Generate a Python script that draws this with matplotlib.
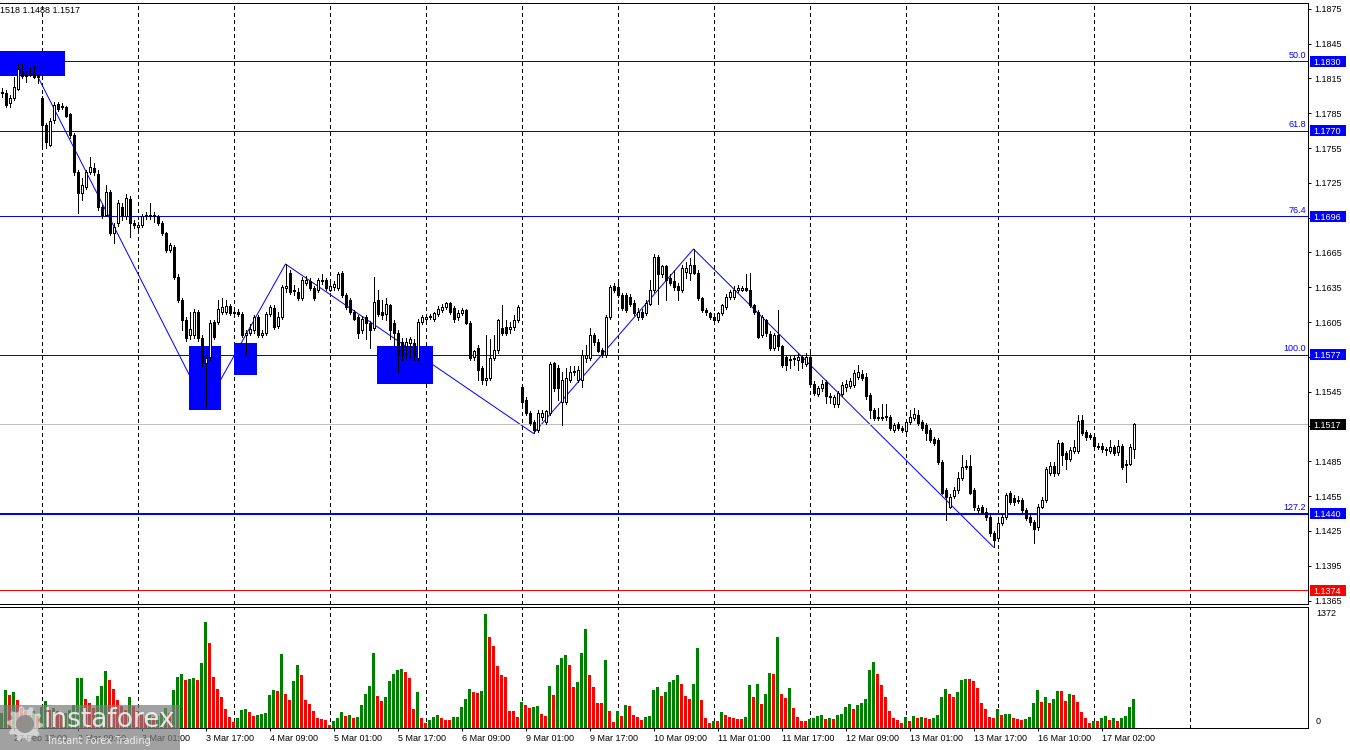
import numpy as np
import matplotlib
matplotlib.use("Agg")
import matplotlib.pyplot as plt
from matplotlib.patches import Rectangle, Polygon
import matplotlib.transforms as mtransforms

plt.rcParams['font.family'] = ['Liberation Sans', 'DejaVu Sans']
plt.rcParams['font.size'] = 6.5

# ---------------- data (EURUSD H1) ----------------
opens = [
 1.1802, 1.1802, 1.1794, 1.1798, 1.1806, 1.1821, 1.1817, 1.1818, 1.1820, 1.1816,
 1.1798, 1.1775, 1.1758, 1.1779, 1.1793, 1.1790, 1.1790, 1.1784, 1.1766, 1.1734,
 1.1716, 1.1721, 1.1734, 1.1738, 1.1733, 1.1704, 1.1697, 1.1717, 1.1682, 1.1690,
 1.1704, 1.1696, 1.1711, 1.1690, 1.1687, 1.1689, 1.1696, 1.1696, 1.1697, 1.1696,
 1.1690, 1.1682, 1.1667, 1.1670, 1.1644, 1.1624, 1.1607, 1.1594, 1.1594, 1.1614,
 1.1591, 1.1570, 1.1575, 1.1605, 1.1605, 1.1614, 1.1614, 1.1619, 1.1614, 1.1614,
 1.1612, 1.1594, 1.1596, 1.1598, 1.1609, 1.1594, 1.1596, 1.1612, 1.1617, 1.1602,
 1.1609, 1.1634, 1.1647, 1.1633, 1.1631, 1.1626, 1.1639, 1.1640, 1.1634, 1.1633,
 1.1640, 1.1641, 1.1633, 1.1635, 1.1634, 1.1647, 1.1628, 1.1624, 1.1614, 1.1609,
 1.1598, 1.1609, 1.1604, 1.1600, 1.1624, 1.1614, 1.1612, 1.1620, 1.1604, 1.1596,
 1.1588, 1.1584, 1.1587, 1.1587, 1.1574, 1.1605, 1.1608, 1.1609, 1.1608, 1.1612,
 1.1615, 1.1618, 1.1621, 1.1617, 1.1609, 1.1613, 1.1615, 1.1604, 1.1575, 1.1583,
 1.1565, 1.1555, 1.1557, 1.1574, 1.1581, 1.1600, 1.1601, 1.1599, 1.1601, 1.1607,
 1.1549, 1.1538, 1.1527, 1.1519, 1.1512, 1.1523, 1.1519, 1.1527, 1.1570, 1.1565,
 1.1536, 1.1536, 1.1555, 1.1562, 1.1555, 1.1555, 1.1574, 1.1574, 1.1594, 1.1588,
 1.1581, 1.1577, 1.1609, 1.1636, 1.1635, 1.1628, 1.1628, 1.1627, 1.1621, 1.1609,
 1.1614, 1.1613, 1.1621, 1.1633, 1.1661, 1.1646, 1.1653, 1.1643, 1.1640, 1.1636,
 1.1633, 1.1648, 1.1647, 1.1654, 1.1647, 1.1626, 1.1615, 1.1613, 1.1609, 1.1607,
 1.1613, 1.1618, 1.1627, 1.1627, 1.1633, 1.1633, 1.1634, 1.1633, 1.1620, 1.1614,
 1.1594, 1.1607, 1.1595, 1.1583, 1.1594, 1.1584, 1.1575, 1.1572, 1.1573, 1.1572,
 1.1575, 1.1569, 1.1575, 1.1552, 1.1543, 1.1548, 1.1553, 1.1541, 1.1534, 1.1534,
 1.1543, 1.1549, 1.1550, 1.1551, 1.1558, 1.1560, 1.1558, 1.1542, 1.1529, 1.1523,
 1.1522, 1.1523, 1.1523, 1.1512, 1.1517, 1.1514, 1.1511, 1.1519, 1.1522, 1.1525,
 1.1519, 1.1516, 1.1512, 1.1504, 1.1503, 1.1484, 1.1460, 1.1446, 1.1455, 1.1460,
 1.1471, 1.1481, 1.1481, 1.1460, 1.1443, 1.1446, 1.1441, 1.1437, 1.1423, 1.1419,
 1.1432, 1.1437, 1.1458, 1.1453, 1.1452, 1.1452, 1.1443, 1.1437, 1.1433, 1.1428,
 1.1446, 1.1452, 1.1475, 1.1481, 1.1475, 1.1501, 1.1492, 1.1487, 1.1494, 1.1494,
 1.1521, 1.1510, 1.1508, 1.1506, 1.1498, 1.1498, 1.1496, 1.1494, 1.1497, 1.1493,
 1.1498, 1.1482, 1.1483, 1.1496]
highs = [
 1.1807, 1.1805, 1.1801, 1.1816, 1.1827, 1.1827, 1.1821, 1.1824, 1.1826, 1.1819,
 1.1800, 1.1777, 1.1781, 1.1795, 1.1795, 1.1794, 1.1791, 1.1785, 1.1768, 1.1736,
 1.1729, 1.1736, 1.1747, 1.1742, 1.1736, 1.1706, 1.1723, 1.1719, 1.1690, 1.1710,
 1.1708, 1.1715, 1.1714, 1.1693, 1.1691, 1.1698, 1.1700, 1.1708, 1.1700, 1.1697,
 1.1692, 1.1683, 1.1673, 1.1671, 1.1646, 1.1626, 1.1609, 1.1614, 1.1616, 1.1615,
 1.1594, 1.1577, 1.1607, 1.1607, 1.1624, 1.1626, 1.1624, 1.1621, 1.1617, 1.1616,
 1.1614, 1.1598, 1.1603, 1.1611, 1.1611, 1.1598, 1.1614, 1.1620, 1.1620, 1.1614,
 1.1637, 1.1655, 1.1650, 1.1637, 1.1634, 1.1644, 1.1645, 1.1643, 1.1636, 1.1643,
 1.1646, 1.1643, 1.1639, 1.1640, 1.1648, 1.1649, 1.1630, 1.1626, 1.1615, 1.1611,
 1.1610, 1.1611, 1.1606, 1.1644, 1.1633, 1.1624, 1.1626, 1.1621, 1.1607, 1.1598,
 1.1591, 1.1591, 1.1592, 1.1590, 1.1608, 1.1611, 1.1611, 1.1612, 1.1614, 1.1619,
 1.1621, 1.1622, 1.1622, 1.1619, 1.1615, 1.1617, 1.1616, 1.1606, 1.1581, 1.1585,
 1.1567, 1.1594, 1.1590, 1.1594, 1.1608, 1.1620, 1.1607, 1.1605, 1.1611, 1.1620,
 1.1551, 1.1540, 1.1528, 1.1521, 1.1529, 1.1529, 1.1529, 1.1571, 1.1571, 1.1568,
 1.1562, 1.1565, 1.1567, 1.1567, 1.1567, 1.1581, 1.1585, 1.1600, 1.1596, 1.1590,
 1.1583, 1.1611, 1.1637, 1.1639, 1.1640, 1.1630, 1.1630, 1.1629, 1.1624, 1.1617,
 1.1616, 1.1624, 1.1641, 1.1664, 1.1663, 1.1654, 1.1654, 1.1646, 1.1650, 1.1639,
 1.1654, 1.1657, 1.1660, 1.1668, 1.1650, 1.1627, 1.1617, 1.1614, 1.1613, 1.1614,
 1.1621, 1.1629, 1.1633, 1.1636, 1.1637, 1.1636, 1.1646, 1.1647, 1.1621, 1.1615,
 1.1611, 1.1608, 1.1597, 1.1596, 1.1615, 1.1585, 1.1577, 1.1576, 1.1577, 1.1578,
 1.1577, 1.1578, 1.1578, 1.1554, 1.1550, 1.1555, 1.1555, 1.1544, 1.1542, 1.1546,
 1.1553, 1.1555, 1.1557, 1.1564, 1.1568, 1.1564, 1.1561, 1.1544, 1.1531, 1.1531,
 1.1534, 1.1534, 1.1525, 1.1518, 1.1519, 1.1515, 1.1521, 1.1529, 1.1531, 1.1529,
 1.1521, 1.1518, 1.1514, 1.1506, 1.1505, 1.1486, 1.1462, 1.1457, 1.1463, 1.1476,
 1.1490, 1.1486, 1.1490, 1.1462, 1.1447, 1.1447, 1.1445, 1.1439, 1.1425, 1.1434,
 1.1440, 1.1458, 1.1459, 1.1456, 1.1455, 1.1453, 1.1445, 1.1439, 1.1434, 1.1448,
 1.1454, 1.1480, 1.1484, 1.1484, 1.1503, 1.1502, 1.1494, 1.1497, 1.1503, 1.1525,
 1.1525, 1.1512, 1.1509, 1.1508, 1.1501, 1.1501, 1.1497, 1.1503, 1.1499, 1.1503,
 1.1500, 1.1486, 1.1500, 1.1518]
lows = [
 1.1799, 1.1790, 1.1790, 1.1796, 1.1805, 1.1815, 1.1812, 1.1817, 1.1815, 1.1811,
 1.1755, 1.1755, 1.1757, 1.1777, 1.1787, 1.1789, 1.1782, 1.1764, 1.1732, 1.1699,
 1.1710, 1.1720, 1.1733, 1.1732, 1.1702, 1.1695, 1.1696, 1.1680, 1.1673, 1.1688,
 1.1693, 1.1694, 1.1678, 1.1686, 1.1685, 1.1687, 1.1694, 1.1694, 1.1691, 1.1689,
 1.1680, 1.1665, 1.1665, 1.1642, 1.1622, 1.1598, 1.1589, 1.1590, 1.1591, 1.1589,
 1.1567, 1.1532, 1.1572, 1.1590, 1.1603, 1.1612, 1.1612, 1.1611, 1.1611, 1.1610,
 1.1592, 1.1577, 1.1594, 1.1596, 1.1592, 1.1592, 1.1594, 1.1610, 1.1599, 1.1600,
 1.1608, 1.1631, 1.1629, 1.1628, 1.1624, 1.1624, 1.1637, 1.1633, 1.1624, 1.1631,
 1.1638, 1.1633, 1.1632, 1.1633, 1.1633, 1.1627, 1.1616, 1.1612, 1.1607, 1.1591,
 1.1596, 1.1590, 1.1583, 1.1598, 1.1610, 1.1608, 1.1607, 1.1590, 1.1585, 1.1561,
 1.1572, 1.1574, 1.1575, 1.1572, 1.1572, 1.1603, 1.1607, 1.1608, 1.1606, 1.1610,
 1.1614, 1.1616, 1.1612, 1.1605, 1.1607, 1.1611, 1.1603, 1.1572, 1.1572, 1.1555,
 1.1552, 1.1551, 1.1555, 1.1572, 1.1578, 1.1594, 1.1594, 1.1596, 1.1598, 1.1605,
 1.1534, 1.1525, 1.1516, 1.1509, 1.1510, 1.1521, 1.1517, 1.1525, 1.1546, 1.1538,
 1.1516, 1.1534, 1.1553, 1.1559, 1.1553, 1.1549, 1.1571, 1.1572, 1.1585, 1.1579,
 1.1575, 1.1575, 1.1608, 1.1631, 1.1627, 1.1615, 1.1614, 1.1619, 1.1611, 1.1607,
 1.1608, 1.1611, 1.1620, 1.1631, 1.1621, 1.1644, 1.1624, 1.1637, 1.1633, 1.1624,
 1.1631, 1.1643, 1.1641, 1.1646, 1.1624, 1.1614, 1.1611, 1.1608, 1.1605, 1.1605,
 1.1611, 1.1616, 1.1625, 1.1625, 1.1631, 1.1632, 1.1632, 1.1618, 1.1612, 1.1591,
 1.1592, 1.1593, 1.1581, 1.1581, 1.1581, 1.1566, 1.1564, 1.1565, 1.1568, 1.1564,
 1.1565, 1.1567, 1.1551, 1.1542, 1.1541, 1.1546, 1.1535, 1.1535, 1.1532, 1.1532,
 1.1541, 1.1546, 1.1548, 1.1549, 1.1556, 1.1555, 1.1539, 1.1522, 1.1521, 1.1521,
 1.1521, 1.1521, 1.1512, 1.1510, 1.1512, 1.1510, 1.1509, 1.1517, 1.1521, 1.1516,
 1.1512, 1.1503, 1.1502, 1.1499, 1.1483, 1.1457, 1.1434, 1.1445, 1.1453, 1.1458,
 1.1469, 1.1478, 1.1457, 1.1443, 1.1441, 1.1440, 1.1434, 1.1421, 1.1411, 1.1417,
 1.1430, 1.1435, 1.1448, 1.1447, 1.1449, 1.1441, 1.1434, 1.1430, 1.1415, 1.1426,
 1.1445, 1.1450, 1.1473, 1.1472, 1.1473, 1.1482, 1.1478, 1.1485, 1.1492, 1.1492,
 1.1508, 1.1503, 1.1504, 1.1496, 1.1496, 1.1493, 1.1490, 1.1492, 1.1490, 1.1490,
 1.1478, 1.1467, 1.1482, 1.1488]
closes = [
 1.1803, 1.1792, 1.1798, 1.1808, 1.1823, 1.1817, 1.1818, 1.1819, 1.1816, 1.1817,
 1.1775, 1.1760, 1.1778, 1.1792, 1.1789, 1.1791, 1.1783, 1.1766, 1.1734, 1.1716,
 1.1723, 1.1734, 1.1739, 1.1734, 1.1704, 1.1697, 1.1717, 1.1682, 1.1687, 1.1708,
 1.1696, 1.1712, 1.1690, 1.1689, 1.1689, 1.1696, 1.1697, 1.1697, 1.1696, 1.1690,
 1.1682, 1.1667, 1.1671, 1.1644, 1.1624, 1.1607, 1.1591, 1.1599, 1.1614, 1.1591,
 1.1570, 1.1574, 1.1604, 1.1592, 1.1616, 1.1618, 1.1619, 1.1613, 1.1613, 1.1612,
 1.1594, 1.1596, 1.1599, 1.1609, 1.1594, 1.1596, 1.1612, 1.1618, 1.1601, 1.1609,
 1.1635, 1.1636, 1.1631, 1.1632, 1.1626, 1.1641, 1.1641, 1.1634, 1.1626, 1.1641,
 1.1641, 1.1634, 1.1636, 1.1638, 1.1646, 1.1628, 1.1618, 1.1614, 1.1608, 1.1596,
 1.1608, 1.1604, 1.1598, 1.1622, 1.1612, 1.1611, 1.1621, 1.1598, 1.1596, 1.1577,
 1.1577, 1.1588, 1.1590, 1.1577, 1.1605, 1.1609, 1.1609, 1.1610, 1.1613, 1.1616,
 1.1618, 1.1621, 1.1614, 1.1608, 1.1613, 1.1615, 1.1604, 1.1574, 1.1580, 1.1564,
 1.1555, 1.1557, 1.1574, 1.1581, 1.1607, 1.1596, 1.1596, 1.1601, 1.1607, 1.1618,
 1.1536, 1.1527, 1.1518, 1.1512, 1.1527, 1.1527, 1.1528, 1.1569, 1.1548, 1.1548,
 1.1555, 1.1557, 1.1562, 1.1563, 1.1564, 1.1577, 1.1577, 1.1594, 1.1588, 1.1580,
 1.1577, 1.1609, 1.1635, 1.1633, 1.1628, 1.1617, 1.1615, 1.1621, 1.1613, 1.1614,
 1.1609, 1.1621, 1.1633, 1.1661, 1.1646, 1.1653, 1.1641, 1.1639, 1.1635, 1.1633,
 1.1652, 1.1652, 1.1654, 1.1647, 1.1626, 1.1615, 1.1614, 1.1609, 1.1607, 1.1613,
 1.1620, 1.1627, 1.1631, 1.1633, 1.1634, 1.1634, 1.1633, 1.1620, 1.1614, 1.1592,
 1.1609, 1.1596, 1.1583, 1.1594, 1.1584, 1.1568, 1.1568, 1.1573, 1.1574, 1.1575,
 1.1571, 1.1575, 1.1552, 1.1544, 1.1548, 1.1552, 1.1541, 1.1540, 1.1540, 1.1544,
 1.1551, 1.1552, 1.1554, 1.1561, 1.1562, 1.1557, 1.1541, 1.1529, 1.1522, 1.1522,
 1.1523, 1.1524, 1.1514, 1.1516, 1.1514, 1.1512, 1.1519, 1.1523, 1.1526, 1.1518,
 1.1514, 1.1509, 1.1503, 1.1501, 1.1484, 1.1458, 1.1454, 1.1454, 1.1460, 1.1471,
 1.1480, 1.1480, 1.1458, 1.1446, 1.1445, 1.1441, 1.1437, 1.1423, 1.1417, 1.1432,
 1.1437, 1.1456, 1.1450, 1.1450, 1.1451, 1.1443, 1.1436, 1.1433, 1.1427, 1.1446,
 1.1452, 1.1478, 1.1481, 1.1475, 1.1501, 1.1490, 1.1487, 1.1495, 1.1497, 1.1520,
 1.1509, 1.1506, 1.1506, 1.1498, 1.1497, 1.1496, 1.1495, 1.1497, 1.1492, 1.1498,
 1.1480, 1.1483, 1.1497, 1.1517]
volumes = [
 180, 460, 400, 436, 332, 240, 200, 160, 200, 150,
 250, 328, 220, 240, 200, 160, 180, 220, 280, 596,
 604, 352, 300, 240, 388, 508, 688, 580, 472, 340,
 268, 220, 376, 260, 200, 160, 120, 160, 130, 150,
 180, 240, 180, 452, 616, 652, 580, 592, 596, 580,
 788, 1276, 1028, 616, 472, 376, 232, 128, 76, 124,
 220, 232, 196, 148, 152, 172, 176, 400, 460, 448,
 892, 412, 340, 568, 760, 640, 340, 288, 208, 124,
 112, 100, 40, 88, 124, 196, 148, 152, 124, 136,
 280, 412, 508, 904, 388, 328, 376, 568, 652, 700,
 712, 676, 604, 232, 436, 124, 64, 100, 136, 160,
 124, 100, 96, 132, 136, 252, 352, 472, 436, 424,
 448, 1372, 1096, 988, 748, 640, 616, 208, 204, 136,
 316, 280, 244, 256, 268, 172, 148, 508, 400, 760,
 840, 880, 760, 496, 556, 904, 1192, 640, 496, 304,
 300, 820, 208, 76, 208, 148, 280, 268, 160, 136,
 100, 136, 148, 460, 496, 388, 436, 556, 580, 640,
 532, 388, 352, 532, 964, 340, 124, 64, 88, 84,
 196, 160, 136, 124, 112, 108, 136, 520, 376, 532,
 292, 412, 664, 652, 1096, 412, 364, 484, 244, 136,
 88, 84, 112, 124, 148, 152, 112, 124, 112, 160,
 164, 256, 292, 232, 280, 296, 352, 700, 796, 652,
 520, 376, 208, 124, 100, 64, 136, 88, 148, 124,
 128, 124, 112, 116, 160, 376, 472, 412, 376, 436,
 580, 592, 588, 568, 484, 304, 232, 136, 124, 232,
 160, 164, 172, 124, 112, 100, 112, 136, 304, 460,
 316, 376, 304, 352, 448, 444, 328, 412, 400, 316,
 196, 124, 64, 88, 84, 124, 148, 100, 124, 88,
 124, 148, 256, 352]
vol_dir = ("GGRGRRRRGR" "GGRGRRGGGG" "GRRRGGGRRR" "RRGRRRRGRG" "GGRGGGRGGR"
           "GGRRRRRRRG" "GGRRGGGGGR" "GRRGGRRRRR" "RRRGGGRGRG" "GGGGRRGGGG"
           "GRRRGRRGGG" "RRRGGGGGRR" "GGRRRRRRRR" "GRRGGRRGRG" "GGRRGGGRRR"
           "RGRRGRGRRR" "RGGGGRGGGG" "RRRGGRRRGR" "GRRRRRGGRG" "RGGRGRRGRR"
           "RRGGGGRGRG" "GGGRGGGGGR" "RRRRRRGRGR" "GRRGGGGRRG" "GGRRRRRRRG"
           "RGGRRRGGGG" "RGRGGRRGRR" "RRRGRGGRGR" "GGGG")

day_starts = [10, 34, 58, 82, 106, 130, 154, 178, 202, 226, 249, 273, 297]
time_label_idx = [3, 19, 35, 51, 67, 83, 99, 115, 131, 147, 163, 179, 195, 211,
                  227, 243, 259, 275]
time_labels = ["27 Feb 17:00", "2 Mar 09:00", "3 Mar 01:00", "3 Mar 17:00",
               "4 Mar 09:00", "5 Mar 01:00", "5 Mar 17:00", "6 Mar 09:00",
               "9 Mar 01:00", "9 Mar 17:00", "10 Mar 09:00", "11 Mar 01:00",
               "11 Mar 17:00", "12 Mar 09:00", "13 Mar 01:00", "13 Mar 17:00",
               "16 Mar 10:00", "17 Mar 02:00"]
price_ticks = [1.1365, 1.1395, 1.1425, 1.1455, 1.1485, 1.1515, 1.1545, 1.1575,
               1.1605, 1.1635, 1.1665, 1.1695, 1.1725, 1.1755, 1.1785, 1.1815,
               1.1845, 1.1875]
fib_levels = [1.1830, 1.1770, 1.1696, 1.1577, 1.1440]
fib_names = ["50.0", "61.8", "76.4", "100.0", "127.2"]
support_level = 1.1374
last_price = 1.1517
zigzag_idx = [9, 51, 71, 133, 173, 248]
zigzag_price = [1.1817, 1.1532, 1.1655, 1.1509, 1.1668, 1.1411]
# zones: (first bar, last bar, upper price, lower price)
zone_start = [-1.0, 46.9, 58.0, 93.9]
zone_end = [15.9, 54.9, 63.85, 107.9]
zone_top = [1.1839, 1.1584, 1.1587, 1.1584]
zone_bottom = [1.1817, 1.1529, 1.1559, 1.1552]
vol_max_label = 1372
header_text = "1518 1.1488 1.1517"

# ---------------- figure ----------------
W, H = 1350, 750
PX = 72.0 / 100.0  # one pixel in points
fig = plt.figure(figsize=(W / 100, H / 100), dpi=100)
fig.patch.set_facecolor('white')


def add_ax(l, t, r, b):
    return fig.add_axes([l / W, 1 - b / H, (r - l) / W, (b - t) / H])


AX_R = 1308
ax = add_ax(0, 3, AX_R, 604)
axv = add_ax(0, 607, AX_R, 728)

n = len(closes)
x = np.arange(n)
XMIN, XMAX = -0.375, 326.625
for a in (ax, axv):
    a.set_xlim(XMIN, XMAX)
    a.set_facecolor('white')
    a.spines['left'].set_visible(False)
    for s in ('top', 'right', 'bottom'):
        a.spines[s].set_linewidth(PX)
        a.spines[s].set_color('black')
ax.set_ylim(1.13620, 1.18800)
axv.set_ylim(0, 1456)
pp = (1.18800 - 1.13620) / 601.0  # price per pixel

trans_p = mtransforms.blended_transform_factory(ax.transAxes, ax.transData)
trans_v = mtransforms.blended_transform_factory(axv.transAxes, axv.transData)

# vertical dashed day separators
for d in day_starts:
    for a in (ax, axv):
        a.axvline(d, color='black', lw=PX, ls=(0, (3, 3)), zorder=0.8,
                  antialiased=False)

# zigzag
ax.plot(zigzag_idx, zigzag_price, color='#0000FF', lw=PX, zorder=1.0)

# zones
for s, e, t, b in zip(zone_start, zone_end, zone_top, zone_bottom):
    ax.add_patch(Rectangle((s, b), e - s, t - b, facecolor='#0000FF',
                           edgecolor='none', zorder=1.2))

# horizontal levels
for lev, name in zip(fib_levels, fib_names):
    lw = 2 * PX if name == "127.2" else PX
    ax.axhline(lev, color='#0000FF', lw=lw, zorder=1.5, antialiased=False)
    ax.text((AX_R - 2) / AX_R, lev + 1.5 * pp, name, transform=trans_p,
            ha='right', va='bottom', color='#0000FF', fontsize=6.5, zorder=6)
ax.axhline(support_level, color='#FF0000', lw=PX, zorder=1.5, antialiased=False)
ax.axhline(last_price, color='#C0C0C0', lw=PX, zorder=1.4, antialiased=False)

# candles
o = np.array(opens); c = np.array(closes)
hi = np.array(highs); lo = np.array(lows)
ax.vlines(x, lo, hi, colors='black', linewidth=PX, zorder=3, antialiased=False)
bull = c >= o
body_col = ['white' if b else 'black' for b in bull]
ax.bar(x, np.abs(c - o), bottom=np.minimum(o, c), width=0.5, color=body_col,
       edgecolor='black', linewidth=PX, zorder=4, antialiased=False)

# volumes
vcol = ['#008000' if d == 'G' else '#FF0000' for d in vol_dir]
axv.bar(x, volumes, width=0.75, color=vcol, linewidth=0, zorder=2,
        antialiased=False)

# price axis
ax.yaxis.tick_right()
ax.set_yticks(price_ticks)
ax.set_yticklabels([f"{t:.4f}" for t in price_ticks])
ax.tick_params(axis='y', direction='out', length=3 * PX, width=PX, pad=3 * PX,
               labelsize=6.5, colors='black')
ax.set_xticks([])

# coloured value boxes on the price axis
box_items = [(lev, '#0000FF') for lev in fib_levels] + \
            [(last_price, '#000000'), (support_level, '#FF0000')]
for lev, col in box_items:
    ax.add_patch(Rectangle((1310 / AX_R, lev - 5.5 * pp), 36 / AX_R, 11 * pp,
                           transform=trans_p, facecolor=col, edgecolor='none',
                           clip_on=False, zorder=10))
    ax.text(1313 / AX_R, lev, f"{lev:.4f}", transform=trans_p, color='white',
            ha='left', va='center_baseline', fontsize=6.5, clip_on=False, zorder=11)

# volume axis
axv.set_yticks([])
axv.text(1316 / AX_R, vol_max_label, str(vol_max_label), transform=trans_v,
         ha='left', va='center', fontsize=6.5, clip_on=False)
axv.text(1316 / AX_R, 6 * 1456 / 121.0, "0", transform=trans_v,
         ha='left', va='center', fontsize=6.5, clip_on=False)
axv.set_xticks(time_label_idx)
axv.set_xticklabels(time_labels, ha='left')
axv.tick_params(axis='x', direction='out', length=3 * PX, width=PX, pad=3 * PX,
                labelsize=6.5, colors='black')

# header text
fig.text(0, 1 - 10.5 / H, header_text, ha='left', va='center', fontsize=6.5)

# watermark
fig.patches.append(Rectangle((0, 0), 180 / W, 45 / H, transform=fig.transFigure,
                             facecolor='#7d7d7d', alpha=0.72, edgecolor='none',
                             zorder=20))
cx, cy = 25.0, 724.0
ang = np.linspace(0, 2 * np.pi, 41)[:-1]
rad = np.where((np.arange(40) // 2) % 2 == 0, 18.0, 14.0)
gx = (cx + rad * np.cos(ang)) / W
gy = 1 - (cy + rad * np.sin(ang)) / H
fig.patches.append(Polygon(np.column_stack([gx, gy]), closed=True,
                           transform=fig.transFigure, facecolor='white',
                           alpha=0.55, edgecolor='none', zorder=21))
fig.patches.append(Polygon(np.column_stack([(cx + 9 * np.cos(ang)) / W,
                                             1 - (cy + 9 * np.sin(ang)) / H]),
                           closed=True, transform=fig.transFigure,
                           facecolor='#8a8a8a', alpha=0.9, edgecolor='none',
                           zorder=22))
fig.text(44 / W, 1 - 720 / H, "instaforex", color='white', alpha=0.8,
         fontsize=19, ha='left', va='center', family='DejaVu Sans', zorder=23)
fig.text(48 / W, 1 - 741 / H, "Instant Forex Trading", color='white', alpha=0.8,
         fontsize=7, ha='left', va='center', family='DejaVu Sans', zorder=23)

fig.savefig("out.png", dpi=100, facecolor='white')
